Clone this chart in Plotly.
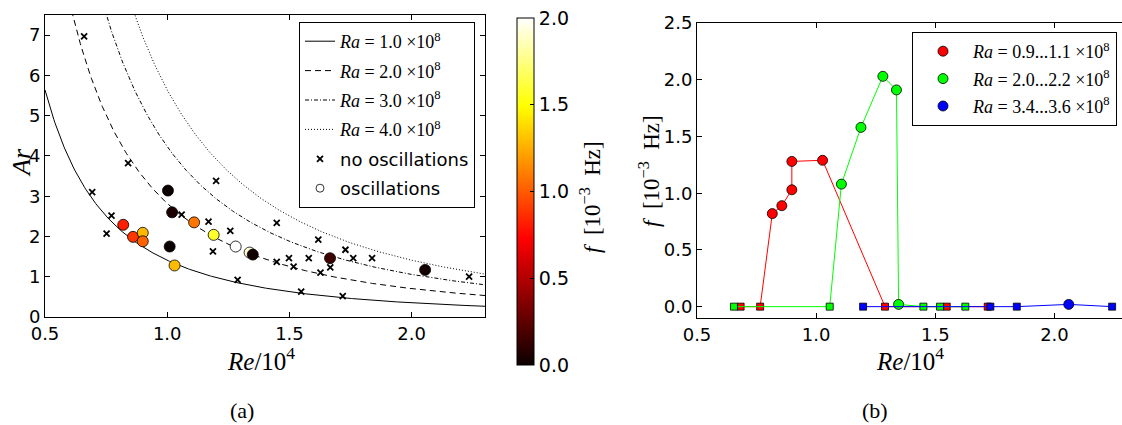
import numpy as np
import plotly.graph_objects as go

W, H = 1122, 425

# ---------------- (a) data ----------------
# model curves Ar = c * Ra / Re^2  (Ra in 1e8, Re in 1e4)
ra_curves = [1.0, 2.0, 3.0, 4.0]
ar_coeff = 1.41
ra_curve_labels = ["1.0", "2.0", "3.0", "4.0"]

no_osc_re = [0.66, 0.693, 0.84, 0.772, 0.752, 1.20, 1.059, 1.169, 1.187, 1.258,
             1.288, 1.448, 1.448, 1.618, 1.498, 1.517, 1.579, 1.627, 1.667, 1.729,
             1.761, 1.838, 1.548, 1.718, 2.235]
no_osc_ar = [6.97, 3.10, 3.82, 2.52, 2.07, 3.38, 2.54, 2.37, 1.63, 2.14,
             0.92, 2.34, 1.37, 1.92, 1.46, 1.25, 1.46, 1.10, 1.23, 1.67,
             1.46, 1.46, 0.63, 0.52, 1.00]

osc_re = [0.82, 0.86, 0.90, 0.90, 1.003, 1.02, 1.01, 1.03, 1.11, 1.19,
          1.28, 1.337, 1.35, 1.666, 2.055]
osc_ar = [2.29, 1.99, 2.09, 1.88, 3.14, 2.60, 1.75, 1.28, 2.35, 2.04,
          1.75, 1.60, 1.55, 1.46, 1.17]
osc_f = [0.82, 0.89, 1.28, 1.03, 0.0, 0.05, 0.0, 1.29, 1.08, 1.58,
         2.03, 1.91, 0.02, 0.15, 0.02]

# ---------------- (b) data ----------------
red_re = [0.683, 0.765, 0.816, 0.856, 0.898, 0.898, 1.027, 1.289, 1.548, 1.72]
red_f = [0.0, 0.0, 0.82, 0.89, 1.03, 1.28, 1.29, 0.0, 0.0, 0.0]
green_re = [0.655, 1.057, 1.106, 1.188, 1.28, 1.337, 1.346, 1.45, 1.52, 1.626]
green_f = [0.0, 0.0, 1.08, 1.58, 2.03, 1.91, 0.02, 0.0, 0.0, 0.0]
blue_re = [1.197, 1.731, 1.842, 2.06, 2.242]
blue_f = [0.0, 0.0, 0.0, 0.02, 0.0]
group_labels = ["0.9...1.1", "2.0...2.2", "3.4...3.6"]

# matplotlib "hot"
hot = [[0.0, "rgb(11,0,0)"], [0.365, "rgb(255,0,0)"],
       [0.746, "rgb(255,255,0)"], [1.0, "rgb(255,255,255)"]]

SERIF = "Liberation Serif"
SANS = "DejaVu Sans"
EM = "\u2002"

def ra_text(s):
    return ('<span style="font-family:%s"><i>Ra</i> = %s ×10<sup>8</sup></span>'
            % (SERIF, s))

fig = go.Figure()

re_grid = np.linspace(0.5, 2.3, 400)
dashes = ["solid", "6px,4px", "4px,2px,1px,2px", "1px,2px"]
for i, (ra, lab, dash) in enumerate(zip(ra_curves, ra_curve_labels, dashes)):
    fig.add_trace(go.Scatter(
        x=re_grid, y=ar_coeff * ra / re_grid**2, mode="lines",
        line=dict(color="black", width=1, dash=dash),
        name=ra_text(lab), legendgroup="a%d" % i,
        xaxis="x", yaxis="y", legend="legend"))

fig.add_trace(go.Scatter(
    x=no_osc_re, y=no_osc_ar, mode="markers", name="no oscillations",
    legendgroup="a5",
    marker=dict(symbol="x-thin", size=6, line=dict(width=1.8, color="black")),
    xaxis="x", yaxis="y", legend="legend"))

fig.add_trace(go.Scatter(
    x=osc_re, y=osc_ar, mode="markers", showlegend=False,
    marker=dict(symbol="circle", size=11, color=osc_f, colorscale=hot,
                cmin=0, cmax=2, line=dict(width=0.8, color="black"),
                showscale=True,
                colorbar=dict(
                    x=517 / W, xanchor="left", xpad=0, ypad=0,
                    y=1 - 18 / H, yanchor="top", len=347 / H, lenmode="fraction",
                    thickness=17, outlinewidth=1, outlinecolor="black",
                    tickvals=[0, 0.5, 1.0, 1.5, 2.0], tickformat=".1f",
                    ticks="inside", ticklen=4, tickcolor="black",
                    tickfont=dict(family=SANS, size=19, color="black"))),
    xaxis="x", yaxis="y"))

# legend proxy for the oscillation circles
fig.add_trace(go.Scatter(
    x=[None], y=[None], mode="markers", name="oscillations", legendgroup="a6",
    marker=dict(symbol="circle", size=8, color="white",
                line=dict(width=0.8, color="black")),
    xaxis="x", yaxis="y", legend="legend"))

# (b)
for k, (re_v, f_v, col, lab) in enumerate([(red_re, red_f, "#ff0000", group_labels[0]),
                                           (green_re, green_f, "#00ff00", group_labels[1]),
                                           (blue_re, blue_f, "#0000ff", group_labels[2])]):
    fig.add_trace(go.Scatter(x=re_v, y=f_v, mode="lines", showlegend=False,
                             line=dict(color=col, width=1),
                             xaxis="x2", yaxis="y2"))
    sq_x = [r for r, f in zip(re_v, f_v) if f == 0]
    sq_y = [f for f in f_v if f == 0]
    ci_x = [r for r, f in zip(re_v, f_v) if f > 0]
    ci_y = [f for f in f_v if f > 0]
    fig.add_trace(go.Scatter(x=sq_x, y=sq_y, mode="markers", showlegend=False,
                             marker=dict(symbol="square", size=7, color=col,
                                         line=dict(width=0.8, color="black")),
                             xaxis="x2", yaxis="y2"))
    fig.add_trace(go.Scatter(x=ci_x, y=ci_y, mode="markers", name=ra_text(lab),
                             legendgroup="b%d" % k,
                             marker=dict(symbol="circle", size=10, color=col,
                                         line=dict(width=0.8, color="black")),
                             xaxis="x2", yaxis="y2", legend="legend2"))

axis_common = dict(showgrid=False, zeroline=False, showline=True, automargin=False,
                   linecolor="black", linewidth=1, ticks="inside", ticklen=5,
                   tickcolor="black", tickfont=dict(family=SANS, size=18, color="black"))

fig.update_layout(
    template="none",
    width=W, height=H, margin=dict(l=0, r=0, t=0, b=0, pad=0, autoexpand=False),
    paper_bgcolor="white", plot_bgcolor="white",
    font=dict(family=SANS, color="black"),
    xaxis=dict(domain=[45 / W, 485 / W], range=[0.5, 2.3], anchor="y",
               tickvals=[0.5, 1.0, 1.5, 2.0], tickformat=".1f",
               mirror="allticks", **axis_common),
    yaxis=dict(domain=[(H - 317) / H, (H - 15) / H], range=[0, 7.5], anchor="x",
               tickvals=list(range(8)), mirror="allticks", **axis_common),
    xaxis2=dict(domain=[697 / W, 1.0], range=[0.5, 0.5 + (W - 697) / 238.3],
                anchor="y2", tickvals=[0.5, 1.0, 1.5, 2.0], tickformat=".1f",
                mirror="allticks", **axis_common),
    yaxis2=dict(domain=[(H - 318) / H, (H - 23) / H], range=[-0.1, 2.5],
                anchor="x2", tickvals=[0, 0.5, 1.0, 1.5, 2.0, 2.5],
                tickformat=".1f", mirror=False, **axis_common),
    legend=dict(x=475 / W, xanchor="right", y=1 - 22 / H, yanchor="top",
                bgcolor="white", bordercolor="black", borderwidth=1,
                font=dict(family=SANS, size=18, color="black"),
                itemwidth=30, tracegroupgap=3, traceorder="grouped"),
    legend2=dict(x=1117 / W, xanchor="right", y=1 - 32 / H, yanchor="top",
                 bgcolor="white", bordercolor="black", borderwidth=1,
                 font=dict(family=SANS, size=18, color="black"),
                 itemwidth=50, tracegroupgap=1, traceorder="grouped"),
    showlegend=True,
)

ftitle = "<i>f</i>" + EM + "[10<sup>−3</sup>" + EM + "Hz]"
ann = [
    dict(text="<i>Ar</i>", x=21 / W, y=1 - 163 / H, textangle=-90, size=26),
    dict(text="<i>Re</i>/10<sup>4</sup>", x=261 / W, y=1 - 359 / H, textangle=0, size=25),
    dict(text="<i>Re</i>/10<sup>4</sup>", x=910 / W, y=1 - 359 / H, textangle=0, size=25),
    dict(text=ftitle, x=590 / W, y=1 - 197 / H, textangle=-90, size=23),
    dict(text=ftitle, x=649 / W, y=1 - 171 / H, textangle=-90, size=23),
    dict(text="(a)", x=242 / W, y=1 - 410 / H, textangle=0, size=22),
    dict(text="(b)", x=875 / W, y=1 - 410 / H, textangle=0, size=22),
]
for a in ann:
    fig.add_annotation(text=a["text"], x=a["x"], y=a["y"], xref="paper", yref="paper",
                       xanchor="center", yanchor="middle", showarrow=False,
                       textangle=a["textangle"],
                       font=dict(family=SERIF, size=a["size"], color="black"))

fig.write_html("out.html", config={"displayModeBar": False},
               post_script="document.body.style.margin='0';document.body.style.padding='0';")
